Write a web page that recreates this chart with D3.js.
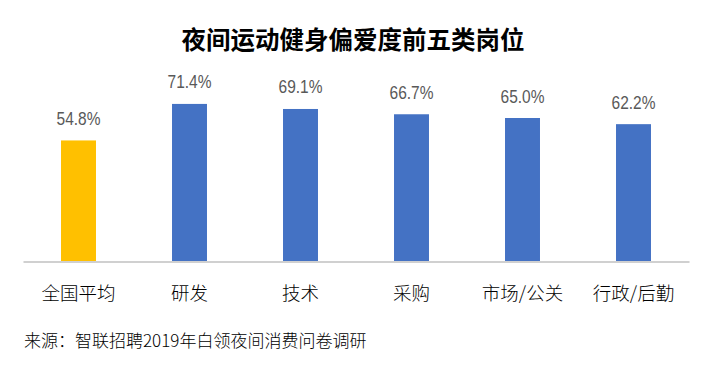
<!DOCTYPE html>
<html>
<head>
<meta charset="utf-8">
<script src="https://cdn.jsdelivr.net/npm/d3@7/dist/d3.min.js"></script>
<style>
  html, body { margin: 0; padding: 0; background: #fff; }
  svg { display: block; }
</style>
</head>
<body>
<svg id="chart" width="712" height="368"></svg>
<script>
const title = "夜间运动健身偏爱度前五类岗位";
const categories = ["全国平均", "研发", "技术", "采购", "市场/公关", "行政/后勤"];
const values = [54.8, 71.4, 69.1, 66.7, 65.0, 62.2];
const highlight = ["全国平均"];
const source = "来源：智联招聘2019年白领夜间消费问卷调研";

const svg = d3.select("#chart");
const cjk = "'Noto Sans CJK SC', 'Noto Sans', sans-serif";

const x = d3.scaleBand()
  .domain(categories)
  .range([23, 689])
  .paddingInner(0.685)
  .paddingOuter(0.3425);

const y = d3.scaleLinear().domain([0, 80]).range([261, 85]);

// title
svg.append("text")
  .attr("x", 353)
  .attr("y", 49)
  .attr("text-anchor", "middle")
  .attr("font-family", cjk)
  .attr("font-weight", 700)
  .attr("font-size", 24.5)
  .attr("fill", "#000")
  .text(title);

// bars
svg.append("g").selectAll("rect")
  .data(categories)
  .join("rect")
  .attr("x", d => x(d))
  .attr("width", x.bandwidth())
  .attr("y", (d, i) => y(values[i]))
  .attr("height", (d, i) => y(0) - y(values[i]))
  .attr("fill", d => highlight.includes(d) ? "#FFC000" : "#4472C4");

// axis baseline
const xAxis = d3.axisBottom(x).tickSize(0).tickPadding(0).tickFormat("");
const ax = svg.append("g").attr("transform", `translate(0,${y(0) + 0.5})`).call(xAxis);
ax.select(".domain").attr("stroke", "#d0d0d0").attr("stroke-width", 2);

// category labels
svg.append("g").selectAll("text")
  .data(categories)
  .join("text")
  .attr("x", d => x(d) + x.bandwidth() / 2)
  .attr("y", 300)
  .attr("text-anchor", "middle")
  .attr("font-family", cjk)
  .attr("font-weight", 300)
  .attr("font-size", 18.5)
  .attr("fill", "#000")
  .text(d => d);

// value labels
svg.append("g").selectAll("text")
  .data(categories)
  .join("text")
  .attr("transform", (d, i) => `translate(${x(d) + x.bandwidth() / 2},${y(values[i]) - 15.5}) scale(1,1.17)`)
  .attr("text-anchor", "middle")
  .attr("font-family", "'Liberation Sans', Arial, sans-serif")
  .attr("font-size", 15.5)
  .attr("fill", "#595959")
  .text((d, i) => values[i].toFixed(1) + "%");

// source
svg.append("text")
  .attr("x", 24)
  .attr("y", 347)
  .attr("font-family", cjk)
  .attr("font-weight", 300)
  .attr("font-size", 17)
  .attr("fill", "#000")
  .text(source);
</script>
</body>
</html>
